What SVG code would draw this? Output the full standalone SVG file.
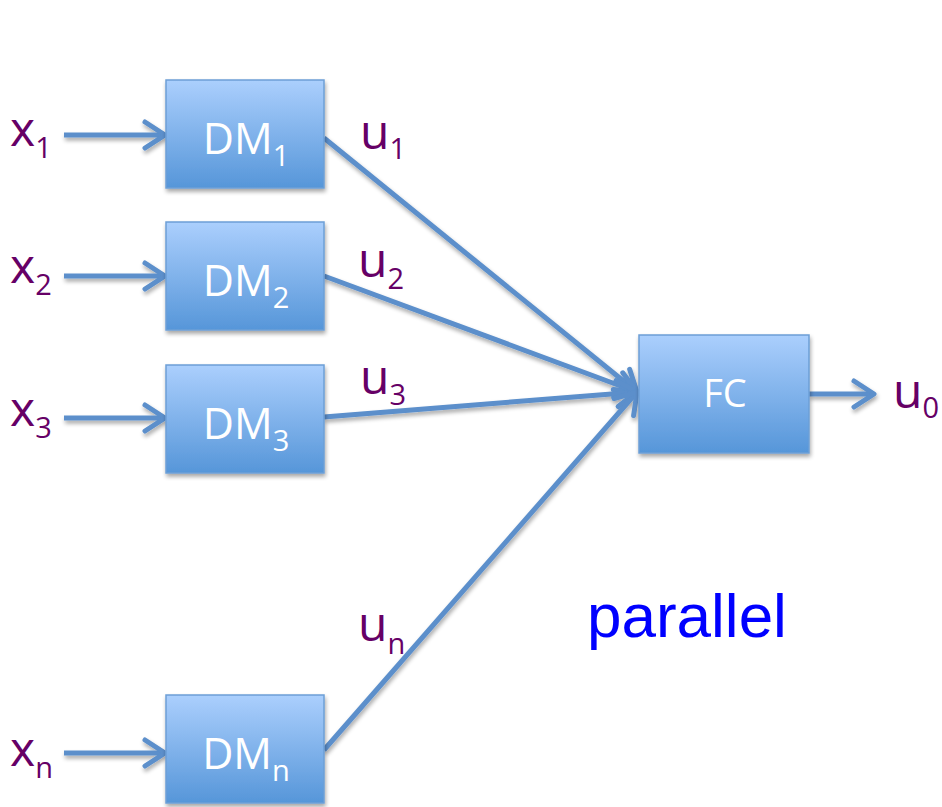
<svg xmlns="http://www.w3.org/2000/svg" width="942" height="807" viewBox="0 0 942 807">
  <defs>
    <linearGradient id="boxFill" x1="0" y1="0" x2="0" y2="1">
      <stop offset="0" stop-color="#abcffd"/>
      <stop offset="1" stop-color="#5696d9"/>
    </linearGradient>
    <filter id="shadow" x="-10%" y="-10%" width="125%" height="130%">
      <feGaussianBlur in="SourceAlpha" stdDeviation="2"/>
      <feOffset dx="1" dy="3" result="off"/>
      <feComponentTransfer><feFuncA type="linear" slope="0.35"/></feComponentTransfer>
      <feMerge><feMergeNode/><feMergeNode in="SourceGraphic"/></feMerge>
    </filter>
    <marker id="arrow" markerUnits="userSpaceOnUse" viewBox="-26 -18 32 36" markerWidth="32" markerHeight="36" refX="0" refY="0" orient="auto" overflow="visible">
      <path d="M-20,-13 L0,0 L-20,13" fill="none" stroke="#5b8fcb" stroke-width="5" stroke-linecap="round" stroke-linejoin="round"/>
    </marker>
  </defs>
  <style>
    .box { fill: url(#boxFill); stroke: #6d9fd6; stroke-width: 1.5; filter: url(#shadow); }
    .boxlabel { font-family: "Open Sans", "Liberation Sans", sans-serif; fill: #ffffff; text-anchor: middle; }
    .var { font-family: "Open Sans", "Liberation Sans", sans-serif; font-size: 48px; fill: #660066; }
    .sub { font-size: 29px; }
    .wire { stroke: #5b8fcb; stroke-width: 5; fill: none; marker-end: url(#arrow); }
    .note { font-family: "Liberation Sans", Arial, sans-serif; font-size: 62px; fill: #0000ff; }
  </style>

  <!-- connectors -->
  <g id="connectors" filter="url(#shadow)">
    <line class="wire" x1="64" y1="135" x2="165" y2="135"/>
    <line class="wire" x1="64" y1="276" x2="165" y2="276"/>
    <line class="wire" x1="64" y1="418" x2="165" y2="418"/>
    <line class="wire" x1="64" y1="753" x2="165" y2="753"/>
    <line class="wire" x1="324" y1="138" x2="637" y2="392"/>
    <line class="wire" x1="324" y1="276" x2="637" y2="392"/>
    <line class="wire" x1="324" y1="417" x2="637" y2="392"/>
    <line class="wire" x1="324" y1="750" x2="637" y2="392"/>
    <line class="wire" x1="809" y1="394" x2="874" y2="394"/>
  </g>

  <!-- decision makers -->
  <g id="dm1">
    <rect class="box" x="166" y="80" width="158" height="108"/>
    <text class="boxlabel" x="246" y="154" font-size="43">DM<tspan font-size="29" dy="12">1</tspan></text>
  </g>
  <g id="dm2">
    <rect class="box" x="166" y="222" width="158" height="108"/>
    <text class="boxlabel" x="246" y="296" font-size="43">DM<tspan font-size="29" dy="12">2</tspan></text>
  </g>
  <g id="dm3">
    <rect class="box" x="166" y="365" width="158" height="108"/>
    <text class="boxlabel" x="246" y="439" font-size="43">DM<tspan font-size="29" dy="12">3</tspan></text>
  </g>
  <g id="dmn">
    <rect class="box" x="166" y="695" width="158" height="108"/>
    <text class="boxlabel" x="246" y="769" font-size="43">DM<tspan font-size="29" dy="12">n</tspan></text>
  </g>

  <!-- fusion center -->
  <g id="fc">
    <rect class="box" x="639" y="335" width="170" height="118"/>
    <text class="boxlabel" x="725" y="407" font-size="38">FC</text>
  </g>

  <!-- inputs -->
  <g id="x1"><text class="var" x="10" y="146">x<tspan class="sub" dy="12">1</tspan></text></g>
  <g id="x2"><text class="var" x="10" y="283">x<tspan class="sub" dy="12">2</tspan></text></g>
  <g id="x3"><text class="var" x="10" y="426">x<tspan class="sub" dy="12">3</tspan></text></g>
  <g id="xn"><text class="var" x="10" y="766">x<tspan class="sub" dy="12">n</tspan></text></g>

  <!-- decisions -->
  <g id="u1"><text class="var" x="360" y="149">u<tspan class="sub" dy="10">1</tspan></text></g>
  <g id="u2"><text class="var" x="358" y="277">u<tspan class="sub" dy="12">2</tspan></text></g>
  <g id="u3"><text class="var" x="360" y="394">u<tspan class="sub" dy="11">3</tspan></text></g>
  <g id="un"><text class="var" x="358" y="641">u<tspan class="sub" dy="13">n</tspan></text></g>
  <g id="u0"><text class="var" x="893" y="408">u<tspan class="sub" dy="10">0</tspan></text></g>

  <text class="note" x="587" y="637">parallel</text>
</svg>
